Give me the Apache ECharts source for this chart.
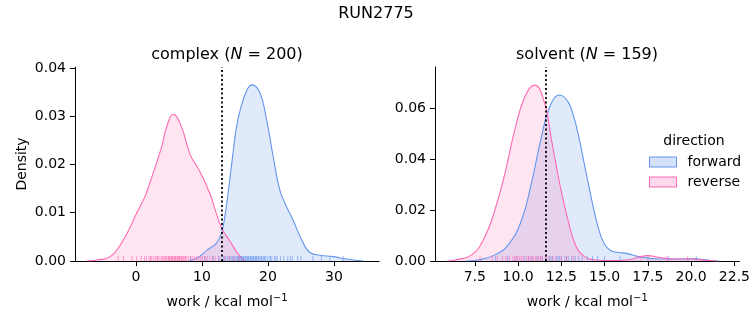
<!DOCTYPE html>
<html>
<head>
<meta charset="utf-8">
<script src="https://cdn.jsdelivr.net/npm/echarts@6/dist/echarts.min.js"></script>
<style>
  html, body { margin: 0; padding: 0; background: #fff; }
  #chart { width: 753px; height: 325px; }
</style>
</head>
<body>
<div id="chart"></div>
<script>
// Work distributions (kernel density estimates) for forward / reverse switching
const complexForward = [[8.0,0],[9.5,0.0008],[10.7,0.0022],[12.2,0.0037],[13.0,0.006],[13.5,0.0095],[14.0,0.0145],[14.7,0.0223],[15.2,0.0275],[15.8,0.0313],[16.8,0.0354],[17.6,0.0365],[18.8,0.0348],[19.8,0.0292],[20.8,0.0216],[21.8,0.0147],[22.8,0.0113],[23.8,0.0085],[25.1,0.0044],[26.4,0.0017],[27.9,0.0012],[29.9,0.0009],[31.9,0.0004],[33.5,0.0001],[34.5,0]];
const complexReverse = [[-7.5,0],[-6.0,0.0002],[-3.9,0.0009],[-1.9,0.0044],[0.1,0.0099],[1.4,0.0135],[2.6,0.0182],[3.9,0.0237],[4.65,0.0278],[5.65,0.0304],[6.9,0.0278],[8.2,0.0221],[9.7,0.0185],[11.2,0.014],[12.0,0.0106],[13.0,0.0068],[14.2,0.0042],[15.3,0.0018],[16.0,0.0007],[16.5,0]];
const solventForward = [[7.0,0],[7.7,0.0004],[8.66,0.0024],[9.43,0.0063],[10.2,0.016],[10.77,0.0305],[11.35,0.0487],[11.83,0.0605],[12.4,0.0651],[12.88,0.0625],[13.2,0.057],[13.5,0.049],[13.8,0.039],[14.1,0.029],[14.4,0.0195],[14.7,0.0115],[15.0,0.0066],[15.3,0.0043],[15.7,0.0034],[16.26,0.003],[17.0,0.0017],[18.16,0.0008],[19.3,0.0008],[20.26,0.0009],[21.04,0.0003],[21.6,0]];
const solventReverse = [[5.9,0],[6.36,0.0004],[7.32,0.0024],[8.08,0.0095],[8.66,0.02],[9.24,0.0344],[9.81,0.0514],[10.39,0.0644],[10.96,0.069],[11.54,0.0618],[11.93,0.0475],[12.4,0.0305],[12.88,0.0161],[13.36,0.0056],[13.84,0.0017],[14.5,0.0004],[15.5,0.0002],[16.2,0.0004],[16.63,0.0008],[17.0,0.0016],[17.5,0.0021],[18.16,0.0014],[18.93,0.0008],[19.9,0.0008],[20.86,0.0003],[21.5,0]];

// Individual work values drawn as a rug along the x axis
const complexForwardRug = [8.3,10.5,11.7,12.6,13.3,13.6,13.9,14.2,14.4,14.6,14.8,15.0,15.2,15.4,15.5,15.7,15.8,16.0,16.1,16.3,16.4,16.6,16.7,16.9,17.0,17.1,17.3,17.4,17.5,17.7,17.8,17.9,18.1,18.2,18.3,18.5,18.6,18.8,19.0,19.1,19.3,19.5,19.6,19.9,20.2,20.4,20.6,21.0,21.2,21.4,21.9,22.4,23.0,23.4,23.7,24.5,25.0,26.8,28.1,29.4,31.4];
const complexReverseRug = [-2.7,-1.9,-0.6,0.1,0.8,1.3,1.6,2.0,2.2,2.4,2.7,3.0,3.2,3.3,3.5,3.8,4.0,4.2,4.4,4.5,4.7,4.9,5.0,5.1,5.3,5.4,5.5,5.6,5.8,5.9,6.0,6.1,6.3,6.4,6.5,6.6,6.8,6.9,7.0,7.2,7.4,7.5,7.7,8.0,8.3,8.6,8.9,9.2,9.5,9.8,10.1,10.4,10.8,11.2,11.6,12.0,12.5,13.4,14.1,14.8,15.6];
const solventForwardRug = [8.7,9.4,9.9,10.4,10.6,10.8,11.1,11.3,11.4,11.6,11.8,11.9,12.0,12.2,12.3,12.4,12.5,12.7,12.8,12.9,13.1,13.3,13.5,13.7,14.0,14.3,14.6,15.0,15.9,17.5,18.7,20.3];
const solventReverseRug = [7.8,8.5,8.8,9.1,9.3,9.5,9.7,9.8,9.9,10.0,10.1,10.2,10.3,10.5,10.6,10.7,10.8,10.9,11.0,11.1,11.2,11.3,11.4,11.6,11.8,12.0,12.2,12.5,12.8,13.2,17.1,18.6,19.8];

// Reference work values marked by the dotted vertical lines
const complexCutoff = 13.0;
const solventCutoff = 11.6;

// Tick labels
const complexXTicks = [0, 10, 20, 30];
const solventXTicks = [7.5, 10, 12.5, 15, 17.5, 20, 22.5];
const complexYTicks = [0, 0.01, 0.02, 0.03, 0.04];
const solventYTicks = [0, 0.02, 0.04, 0.06];

const FONT = 'DejaVu Sans';
const BLUE = '#6495ED';
const PINK = '#FF69B4';
const BLUE_FILL = 'rgba(100,149,237,0.28)';
const PINK_FILL = 'rgba(255,105,180,0.26)';
const BLUE_RUG = 'rgba(100,149,237,0.75)';
const PINK_RUG = 'rgba(255,105,180,0.75)';

const axisLine = { show: true, onZero: false, lineStyle: { color: '#000', width: 1 } };
const axisTick = (vals) => ({ show: true, inside: false, length: 5, lineStyle: { color: '#000', width: 1 }, customValues: vals });
const labelStyle = { fontFamily: FONT, fontSize: 14, color: '#000' };
const xName = 'work / kcal mol{sup|−1}';
const xNameStyle = {
  fontFamily: FONT, fontSize: 14, color: '#000',
  rich: { sup: { fontFamily: FONT, fontSize: 10, color: '#000', padding: [0, 0, 8, 0] } }
};

function kde(name, data, color, fill, ax) {
  return {
    type: 'line', name, data, xAxisIndex: ax, yAxisIndex: ax,
    smooth: 0.45, showSymbol: false, symbol: 'none',
    lineStyle: { color, width: 1.1 }, itemStyle: { color },
    areaStyle: { color: fill }, z: 2
  };
}
function rug(values, color, ax, cutoff) {
  const s = {
    type: 'scatter', data: values.map(v => [v, 0]), xAxisIndex: ax, yAxisIndex: ax,
    symbol: 'rect', symbolSize: [1, 5], symbolOffset: [0, -2.5],
    itemStyle: { color }, silent: true, z: 3
  };
  if (cutoff !== undefined) {
    s.markLine = {
      silent: true, symbol: 'none', label: { show: false },
      lineStyle: { color: '#000', type: [2, 2.5], width: 1.8 },
      data: [{ xAxis: cutoff }], z: 5
    };
  }
  return s;
}

const chart = echarts.init(document.getElementById('chart'), null, { renderer: 'canvas' });
chart.setOption({
  animation: false,
  backgroundColor: '#fff',
  textStyle: { fontFamily: FONT },
  title: [
    { text: 'RUN2775', left: 376, top: 6, textAlign: 'center', padding: 0,
      textStyle: { fontFamily: FONT, fontSize: 16, fontWeight: 'normal', color: '#000' } },
    { text: 'complex ({i|N} = 200)', left: 227, top: 47, textAlign: 'center', padding: 0,
      textStyle: { fontFamily: FONT, fontSize: 16, fontWeight: 'normal', color: '#000',
        rich: { i: { fontFamily: FONT, fontSize: 16, fontStyle: 'italic', color: '#000' } } } },
    { text: 'solvent ({i|N} = 159)', left: 587, top: 47, textAlign: 'center', padding: 0,
      textStyle: { fontFamily: FONT, fontSize: 16, fontWeight: 'normal', color: '#000',
        rich: { i: { fontFamily: FONT, fontSize: 16, fontStyle: 'italic', color: '#000' } } } },
    { text: 'direction', left: 694, top: 134, textAlign: 'center', padding: 0,
      textStyle: { fontFamily: FONT, fontSize: 14, fontWeight: 'normal', color: '#000' } }
  ],
  legend: {
    orient: 'vertical', left: 649, top: 155, padding: 0,
    itemWidth: 27, itemHeight: 10, itemGap: 6, icon: 'rect',
    textStyle: { fontFamily: FONT, fontSize: 14, color: '#000', padding: [0, 0, 0, 6] },
    data: [
      { name: 'forward', itemStyle: { color: BLUE_FILL, borderColor: BLUE, borderWidth: 1 } },
      { name: 'reverse', itemStyle: { color: PINK_FILL, borderColor: PINK, borderWidth: 1 } }
    ],
    selectedMode: false
  },
  grid: [
    { left: 75, top: 67, width: 304, height: 194 },
    { left: 435, top: 67, width: 305, height: 194 }
  ],
  xAxis: [
    { type: 'value', gridIndex: 0, min: -9.24, max: 36.83,
      axisLine, axisTick: axisTick(complexXTicks), splitLine: { show: false },
      axisLabel: Object.assign({ customValues: complexXTicks, margin: 9, formatter: v => String(v) }, labelStyle),
      name: xName, nameLocation: 'middle', nameGap: 32, nameTextStyle: xNameStyle },
    { type: 'value', gridIndex: 1, min: 5.2, max: 22.79,
      axisLine, axisTick: axisTick(solventXTicks), splitLine: { show: false },
      axisLabel: Object.assign({ customValues: solventXTicks, margin: 9, formatter: v => v.toFixed(1) }, labelStyle),
      name: xName, nameLocation: 'middle', nameGap: 32, nameTextStyle: xNameStyle }
  ],
  yAxis: [
    { type: 'value', gridIndex: 0, min: 0, max: 0.0402,
      axisLine, axisTick: axisTick(complexYTicks), splitLine: { show: false },
      axisLabel: Object.assign({ customValues: complexYTicks, margin: 9, formatter: v => v.toFixed(2) }, labelStyle),
      name: 'Density', nameLocation: 'middle', nameGap: 46,
      nameTextStyle: { fontFamily: FONT, fontSize: 14, color: '#000' } },
    { type: 'value', gridIndex: 1, min: 0, max: 0.0761,
      axisLine, axisTick: axisTick(solventYTicks), splitLine: { show: false },
      axisLabel: Object.assign({ customValues: solventYTicks, margin: 9, formatter: v => v.toFixed(2) }, labelStyle) }
  ],
  series: [
    kde('forward', complexForward, BLUE, BLUE_FILL, 0),
    kde('reverse', complexReverse, PINK, PINK_FILL, 0),
    kde('forward', solventForward, BLUE, BLUE_FILL, 1),
    kde('reverse', solventReverse, PINK, PINK_FILL, 1),
    rug(complexForwardRug, BLUE_RUG, 0),
    rug(complexReverseRug, PINK_RUG, 0, complexCutoff),
    rug(solventForwardRug, BLUE_RUG, 1),
    rug(solventReverseRug, PINK_RUG, 1, solventCutoff)
  ]
});
</script>
</body>
</html>
